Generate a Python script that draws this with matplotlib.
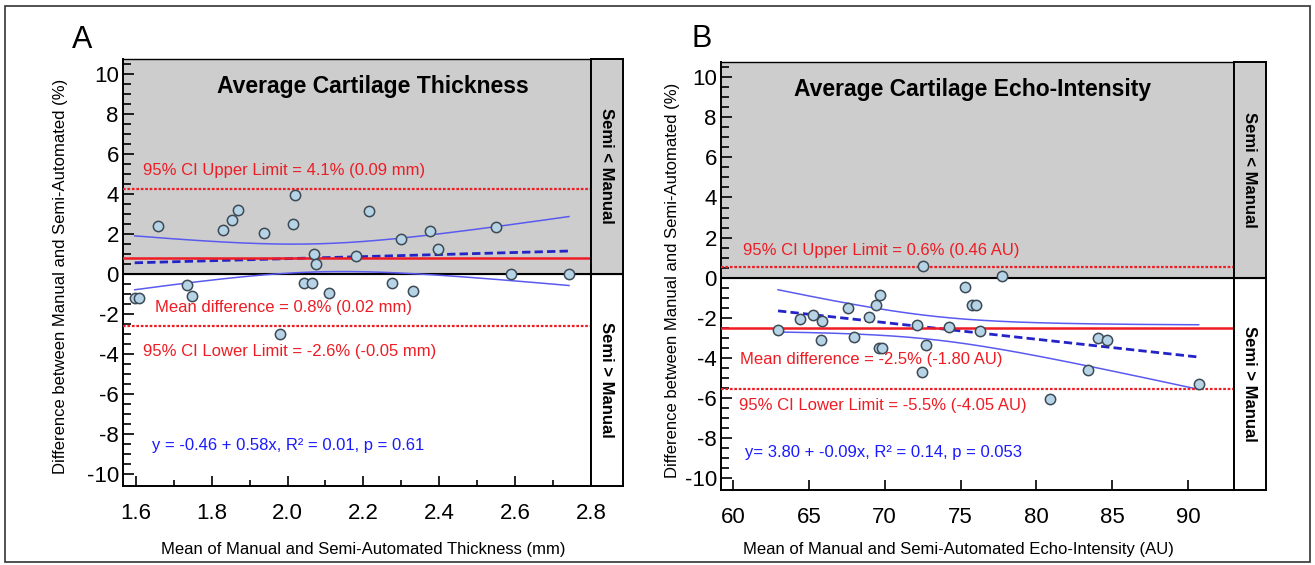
import numpy as np
import matplotlib.pyplot as plt
from matplotlib.patches import Rectangle

plt.rcParams['font.family'] = ['Liberation Sans', 'DejaVu Sans']
plt.rcParams['axes.unicode_minus'] = False

# Panel A: average cartilage thickness
thick_x = [1.659, 1.829, 1.854, 1.870, 1.939, 2.014, 2.020, 2.070, 2.076, 2.180,
           2.216, 2.300, 2.375, 2.396, 2.550, 2.590, 2.742, 1.597, 1.609, 1.734,
           1.749, 2.044, 2.065, 2.109, 2.275, 2.330, 1.979]
thick_y = [2.41, 2.18, 2.68, 3.22, 2.06, 2.50, 3.97, 0.98, 0.48, 0.92,
           3.17, 1.75, 2.13, 1.27, 2.35, 0.01, 0.01, -1.22, -1.22, -0.53,
           -1.09, -0.47, -0.47, -0.95, -0.44, -0.84, -3.00]
thick_mean = 0.81
thick_upper = 4.25
thick_lower = -2.62

# Panel B: average cartilage echo-intensity
echo_x = [72.50, 77.73, 75.31, 69.69, 69.41, 75.78, 76.00, 67.56, 65.25, 68.94,
          64.42, 65.87, 62.97, 72.13, 74.26, 76.30, 65.78, 67.98, 84.04, 84.68,
          69.65, 69.82, 72.70, 72.48, 83.40, 90.70, 80.92]
echo_y = [0.60, 0.08, -0.45, -0.89, -1.35, -1.39, -1.39, -1.52, -1.89, -1.97,
          -2.07, -2.19, -2.60, -2.39, -2.49, -2.67, -3.10, -2.99, -3.02, -3.14,
          -3.50, -3.50, -3.37, -4.74, -4.60, -5.34, -6.09]
echo_mean = -2.52
echo_upper = 0.55
echo_lower = -5.59

T_CRIT = 2.06

RED = '#ee1c24'
BLUE = '#1a1aff'
GRAY = '#cdcdcd'


def regression(x, y):
    x = np.asarray(x)
    y = np.asarray(y)
    slope, icpt = np.polyfit(x, y, 1)
    xs = np.linspace(x.min(), x.max(), 200)
    fit = icpt + slope * xs
    resid = y - (icpt + slope * x)
    s = np.sqrt(np.sum(resid ** 2) / (len(x) - 2))
    sxx = np.sum((x - x.mean()) ** 2)
    half = T_CRIT * s * np.sqrt(1 / len(x) + (xs - x.mean()) ** 2 / sxx)
    return xs, fit, fit - half, fit + half


def panel(ax, side, x, y, mean, upper, lower, xlim, texts, title, title_xy, eq, eq_xy,
          xlabel, xlab_pos, ylab_x, xmajor, xminor):
    ylim = (-10.62, 10.77)
    ax.set_xlim(*xlim)
    ax.set_ylim(*ylim)
    ax.axhspan(0, ylim[1], color=GRAY, zorder=0)
    ax.axhline(0, color='black', lw=1.5, zorder=1)

    xs, fit, lo, hi = regression(x, y)
    ax.plot(xs, hi, color='#5a5af0', lw=1.1, zorder=2)
    ax.plot(xs, lo, color='#5a5af0', lw=1.1, zorder=2)
    ax.plot(xs, fit, color='#2323c8', lw=2, dashes=(3, 1.5), zorder=3)

    ax.axhline(mean, color=RED, lw=1.8, zorder=3)
    ax.axhline(upper, color=RED, lw=1.6, ls=(0, (1.2, 0.8)), zorder=3)
    ax.axhline(lower, color=RED, lw=1.6, ls=(0, (1.2, 0.8)), zorder=3)

    ax.scatter(x, y, s=55, facecolor='#b7d3e6', edgecolor='#3c4a55', lw=1.1, zorder=4)

    for (tx, ty, s) in texts:
        ax.text(tx, ty, s, color=RED, fontsize=12, ha='left', va='center', zorder=5)
    ax.text(title_xy[0], title_xy[1], title, fontsize=16.5, fontweight='bold',
            ha='center', va='center')
    ax.text(eq_xy[0], eq_xy[1], eq, color=BLUE, fontsize=12, ha='left', va='center')

    ax.set_yticks(np.arange(-10, 11, 2))
    ax.set_yticks(np.arange(-10, 10.6, 0.5), minor=True)
    ax.set_xticks(xmajor)
    ax.set_xticks(xminor, minor=True)
    ax.tick_params(which='both', direction='in', labelsize=16, width=1.2)
    ax.tick_params(axis='y', which='major', length=8, pad=3)
    ax.tick_params(axis='y', which='minor', length=6)
    ax.tick_params(axis='x', which='major', length=7, pad=12)
    ax.tick_params(axis='x', which='minor', length=4)
    for sp in ax.spines.values():
        sp.set_linewidth(1.4)
    ax.spines['top'].set_linewidth(1.0)

    ax.set_xlabel(xlabel, fontsize=12)
    ax.xaxis.set_label_coords(*xlab_pos)
    ax.set_ylabel('Difference between Manual and Semi-Automated (%)', fontsize=12)
    ax.yaxis.set_label_coords(ylab_x, 0.49)

    # side strip
    side.set_ylim(*ylim)
    side.set_xlim(0, 1)
    side.axhspan(0, ylim[1], color=GRAY, zorder=0)
    side.axhline(0, color='black', lw=1.5)
    side.set_xticks([])
    side.set_yticks([])
    for sp in side.spines.values():
        sp.set_linewidth(1.4)
    side.text(0.5, 5.4, 'Semi < Manual', rotation=270, fontsize=12, fontweight='bold',
              ha='center', va='center')
    side.text(0.5, -5.3, 'Semi > Manual', rotation=270, fontsize=12, fontweight='bold',
              ha='center', va='center')


fig = plt.figure(figsize=(13.15, 5.65), dpi=100)
fig.patches.append(Rectangle((0.0038, 0.006), 0.9924, 0.983, transform=fig.transFigure,
                             fill=False, edgecolor='#333333', lw=1.2))

axA = fig.add_axes([0.0935, 0.1398, 0.3559, 0.7558])
sideA = fig.add_axes([0.4494, 0.1398, 0.0243, 0.7558])
panel(axA, sideA, thick_x, thick_y, thick_mean, thick_upper, thick_lower,
      (1.566, 2.8),
      [(1.618, 5.18, '95% CI Upper Limit = 4.1% (0.09 mm)'),
       (1.650, -1.67, 'Mean difference = 0.8% (0.02 mm)'),
       (1.618, -3.89, '95% CI Lower Limit = -2.6% (-0.05 mm)')],
      'Average Cartilage Thickness', (2.225, 9.4),
      'y = -0.46 + 0.58x, R² = 0.01, p = 0.61', (1.642, -8.6),
      'Mean of Manual and Semi-Automated Thickness (mm)', (0.513, -0.13), -0.1175,
      np.arange(1.6, 2.81, 0.2), np.arange(1.7, 2.8, 0.2))
axA.set_xticklabels([f'{v:.1f}' for v in np.arange(1.6, 2.81, 0.2)])

axB = fig.add_axes([0.5483, 0.1327, 0.3901, 0.7575])
sideB = fig.add_axes([0.9384, 0.1327, 0.0243, 0.7575])
panel(axB, sideB, echo_x, echo_y, echo_mean, echo_upper, echo_lower,
      (59.21, 93.03),
      [(60.64, 1.37, '95% CI Upper Limit = 0.6% (0.46 AU)'),
       (60.46, -4.10, 'Mean difference = -2.5% (-1.80 AU)'),
       (60.42, -6.39, '95% CI Lower Limit = -5.5% (-4.05 AU)')],
      'Average Cartilage Echo-Intensity', (75.8, 9.4),
      'y= 3.80 + -0.09x, R² = 0.14, p = 0.053', (60.8, -8.73),
      'Mean of Manual and Semi-Automated Echo-Intensity (AU)', (0.462, -0.121), -0.08,
      np.arange(60, 91, 5), [])

fig.text(82 / 1315, 1 - 40 / 565, 'A', fontsize=22, ha='center', va='center')
fig.text(702 / 1315, 1 - 39 / 565, 'B', fontsize=22, ha='center', va='center')

fig.savefig('out.png', dpi=100)
